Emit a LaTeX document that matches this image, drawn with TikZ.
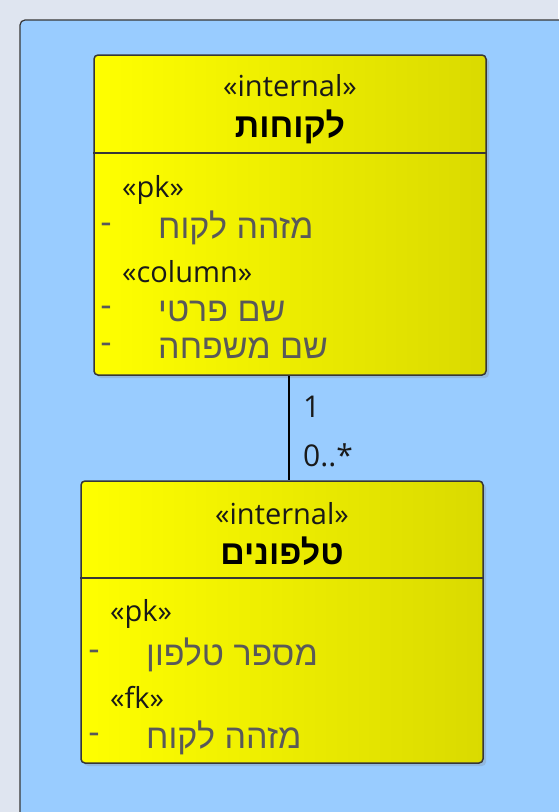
\documentclass[tikz,border=0pt]{standalone}
\usepackage{fontspec}
\setmainfont{Open Sans}
\newfontfamily\hebfont[Script=Hebrew]{Liberation Sans}
\TeXXeTstate=1
\usetikzlibrary{shadows}
\definecolor{pagegrey}{RGB}{223,229,240}
\definecolor{panelblue}{RGB}{153,204,255}
\definecolor{darkyellow}{RGB}{218,218,0}
\definecolor{framegrey}{RGB}{55,55,55}
\tikzstyle{classbox}=[draw=framegrey,line width=1.5pt,rounded corners=4pt,left color=yellow,right color=darkyellow,drop shadow={shadow xshift=3pt,shadow yshift=-3pt,opacity=0.25}]
\tikzstyle{stereo}=[font=\fontsize{29}{31}\selectfont,text=black!90,inner sep=0pt]
\tikzstyle{title}=[font=\fontsize{34}{36}\hebfont\bfseries,inner sep=0pt]
\tikzstyle{attr}=[font=\fontsize{34}{36}\hebfont,text=black!65,anchor=west,inner sep=0pt]
\tikzstyle{mult}=[font=\fontsize{30}{32}\selectfont,text=black!90,anchor=west,inner sep=0pt]

\begin{document}
\begin{tikzpicture}[x=1pt,y=-1pt]
	\useasboundingbox (0,0) rectangle (558,812);
	% page and diagram panel
	\fill[pagegrey] (0,0) rectangle (558,812);
	\draw[fill=panelblue,draw=framegrey,line width=1.2pt,rounded corners=5pt] (20,20) rectangle (600,860);

	% the two tables
	\node[classbox,minimum width=392pt,minimum height=320pt] (clients) at (290,215) {};
	\node[classbox,minimum width=402pt,minimum height=282pt] (phones) at (282,622) {};
	\draw[framegrey,line width=1.5pt] (clients.west |- 0,153) -- (clients.east |- 0,153);
	\draw[framegrey,line width=1.5pt] (phones.west |- 0,578) -- (phones.east |- 0,578);

	% headers
	\node[stereo] (clientsst) at (290,86) {«internal»};
	\node[title] (clientsname) at (290,127) {\beginR לקוחות\endR};
	\node[stereo] (phonesst) at (282,514) {«internal»};
	\node[title] (phonesname) at (282,551) {\beginR טלפונים\endR};

	% stereotype groups
	\foreach \x/\y/\tag/\name in {122/190/pk/clientspk, 122/272/column/clientscol,
								110/614/pk/phonespk, 110/697/fk/phonesfk}
	\node[stereo,anchor=west] (\name) at (\x,\y) {«\tag»};

	% columns with their visibility marks
	\foreach \x/\y/\col/\name in {158/228/{מזהה לקוח}/clientsid, 158/311/{שם פרטי}/firstname,
								158/348/{שם משפחה}/lastname, 146/655/{מספר טלפון}/phoneno,
								146/738/{מזהה לקוח}/phonesclient}
	{
		\node[attr] (\name) at (\x,\y) {\beginR \col\endR};
		\node[attr,anchor=center] (\name-vis) at (\x-52,\y) {-};
	}

	% association
	\draw[black,line width=1.5pt] (289,0 |- clients.south) coordinate (assoctop) -- (assoctop |- phones.north);
	\node[mult] (multone) at (303,407) {1};
	\node[mult] (multmany) at (303,455) {0..*};
\end{tikzpicture}
\end{document}
